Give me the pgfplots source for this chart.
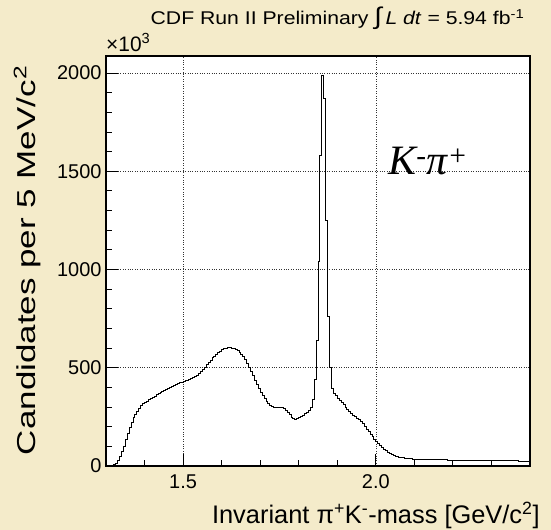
\documentclass[border=0pt]{standalone}
\usepackage{pgfplots}
\usepackage{pgfplotstable}
\pgfplotsset{compat=1.18}
\usepackage{fontspec}
\setmainfont{Liberation Sans}
\newfontfamily\tms{Liberation Serif}
\definecolor{bgcol}{RGB}{244,235,202}

\pgfplotstableread{
x y
1.300 0
1.305 0
1.310 0
1.315 3
1.320 7
1.325 14
1.330 27
1.335 48
1.340 74
1.345 102
1.350 133
1.355 165
1.360 196
1.365 222
1.370 245
1.375 264
1.380 280
1.385 294
1.390 306
1.395 316
1.400 324
1.405 331
1.410 338
1.415 344
1.420 350
1.425 356
1.430 362
1.435 368
1.440 374
1.445 380
1.450 385
1.455 390
1.460 396
1.465 401
1.470 406
1.475 411
1.480 416
1.485 420
1.490 424
1.495 427
1.500 430
1.505 433
1.510 437
1.515 440
1.520 444
1.525 449
1.530 455
1.535 462
1.540 471
1.545 481
1.550 492
1.555 504
1.560 516
1.565 528
1.570 539
1.575 550
1.580 559
1.585 568
1.590 577
1.595 585
1.600 591
1.605 596
1.610 599
1.615 601
1.620 601
1.625 600
1.630 598
1.635 594
1.640 588
1.645 580
1.650 570
1.655 557
1.660 541
1.665 522
1.670 502
1.675 481
1.680 459
1.685 437
1.690 415
1.695 394
1.700 375
1.705 358
1.710 343
1.715 330
1.720 319
1.725 310
1.730 304
1.735 300
1.740 298
1.745 298
1.750 298
1.755 296
1.760 291
1.765 283
1.770 272
1.775 260
1.780 249
1.785 241
1.790 238
1.795 240
1.800 245
1.805 252
1.810 259
1.815 266
1.820 274
1.825 283
1.830 296
1.835 340
1.840 440
1.845 640
1.850 1040
1.855 1580
1.860 1990
1.865 1870
1.870 1250
1.875 760
1.880 500
1.885 395
1.890 370
1.895 358
1.900 345
1.905 333
1.910 322
1.915 311
1.920 300
1.925 288
1.930 277
1.935 266
1.940 257
1.945 250
1.950 244
1.955 238
1.960 229
1.965 217
1.970 203
1.975 188
1.980 174
1.985 160
1.990 148
1.995 136
2.000 124
2.005 113
2.010 103
2.015 94
2.020 85
2.025 78
2.030 71
2.035 65
2.040 60
2.045 55
2.050 51
2.055 48
2.060 45
2.065 43
2.070 41
2.075 39
2.080 38
2.085 37
2.090 36
2.095 35
2.100 35
2.105 34
2.110 34
2.115 34
2.120 33
2.125 33
2.130 33
2.135 33
2.140 32
2.145 32
2.150 32
2.155 32
2.160 31
2.165 31
2.170 31
2.175 31
2.180 31
2.185 30
2.190 30
2.195 30
2.200 30
2.205 30
2.210 30
2.215 29
2.220 29
2.225 29
2.230 29
2.235 29
2.240 29
2.245 28
2.250 28
2.255 28
2.260 28
2.265 28
2.270 28
2.275 28
2.280 27
2.285 27
2.290 27
2.295 27
2.300 27
2.305 27
2.310 27
2.315 27
2.320 26
2.325 26
2.330 26
2.335 26
2.340 26
2.345 26
2.350 26
2.355 26
2.360 26
2.365 26
2.370 25
2.375 25
2.380 25
2.385 25
2.390 25
2.395 25
2.400 25
}\histdata

\begin{document}
\begin{tikzpicture}
\fill[bgcol] (0bp,0bp) rectangle (551bp,530bp);
\useasboundingbox (0bp,0bp) rectangle (551bp,530bp);
\begin{axis}[
  at={(106bp,64bp)}, anchor=south west,
  scale only axis, width=424bp, height=410bp,
  xmin=1.3, xmax=2.4, ymin=0, ymax=2087,
  clip mode=individual,
  axis background/.style={fill=white},
  axis line style={line width=1.2bp, black},
  xtick={1.5,2.0}, xticklabels={1.5,2.0},
  minor xtick={1.4,1.6,1.7,1.8,1.9,2.1,2.2,2.3},
  ytick={0,500,1000,1500,2000}, yticklabels={0,500,1000,1500,2000},
  minor ytick={100,200,300,400,600,700,800,900,1100,1200,1300,1400,1600,1700,1800,1900},
  tick pos=left, tick align=inside,
  major tick length=12bp, minor tick length=6bp,
  tick style={line width=1bp, black},
  xmajorgrids, ymajorgrids,
  major grid style={black!80, line width=0.6bp, dash pattern=on 0.8bp off 1.6bp},
  tick label style={font=\fontsize{20}{20}\selectfont},
  xticklabel style={yshift=-5bp},
  yticklabel style={xshift=-1bp},
  xlabel={Invariant π\textsuperscript{+}K\textsuperscript{-}-mass [GeV/c\textsuperscript{2}]},
  xlabel style={at={(axis description cs:1.031,-0.12)}, anchor=east, font=\fontsize{25.5}{26}\selectfont},
  ylabel={\scalebox{1.35}[1]{Candidates per 5 MeV/c\textsuperscript{2}}},
  ylabel style={at={(axis description cs:-0.186,0.985)}, anchor=east, rotate=0, font=\fontsize{26}{26}\selectfont},
  title={\scalebox{1.15}[1]{CDF Run II Preliminary {\fontsize{24}{24}\selectfont ∫}\,\textit{L dt} = 5.94 fb\textsuperscript{-1}}},
  title style={at={(axis description cs:0.995,1.078)}, anchor=east, font=\fontsize{18.5}{19}\selectfont},
]
\addplot[const plot mark left, black, line width=0.9bp] table[x=x,y=y] {\histdata};
\node[anchor=base west, font=\fontsize{21}{21}\selectfont, inner sep=0pt] at (axis description cs:0.0,1.012) {×10\textsuperscript{3}};
\node[font=\fontsize{42}{42}\selectfont\tms\itshape] at (axis description cs:0.76,0.745) {K\textsuperscript{-}π\textsuperscript{+}};
\draw[line width=2.5bp, black] (axis description cs:0,1) -- (axis description cs:0,0) -- (axis description cs:1,0);
\end{axis}
\end{tikzpicture}
\end{document}
